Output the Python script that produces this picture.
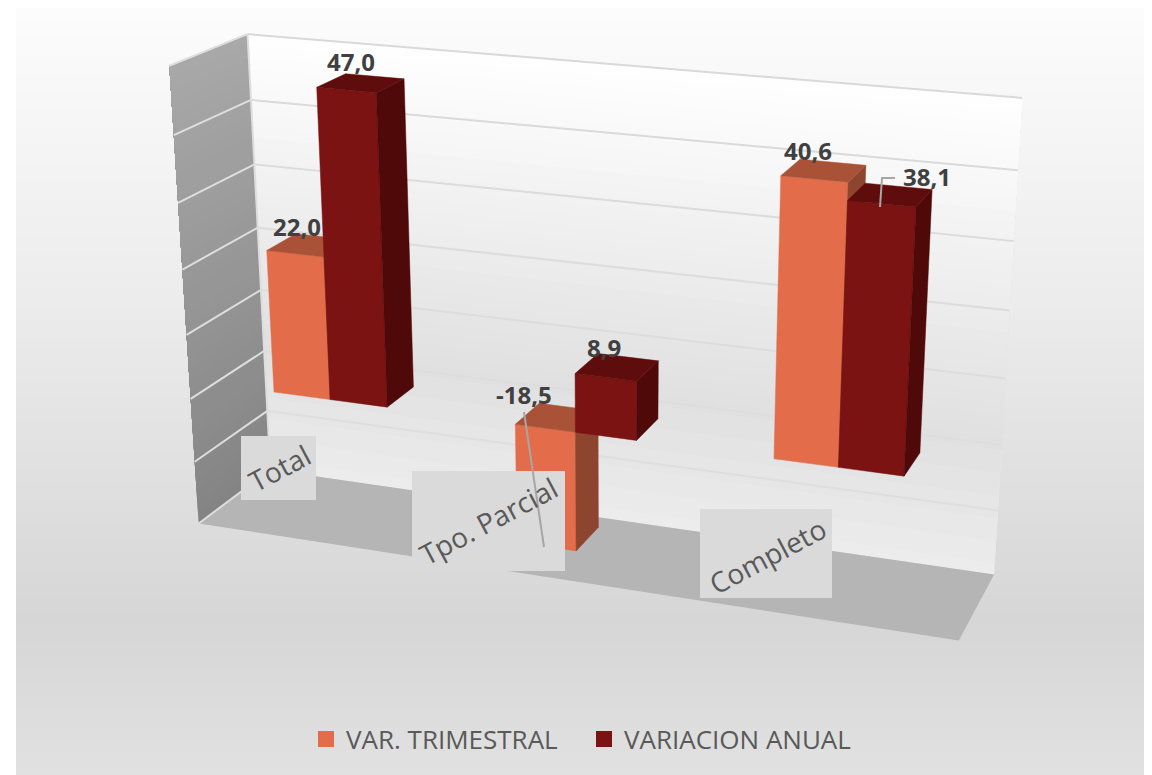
import numpy as np, plotly.graph_objects as go

# ---------- data ----------
categories = ["Total", "Tpo. Parcial", "Completo"]
var_trimestral = [22.0, -18.5, 40.6]
variacion_anual = [47.0, 8.9, 38.1]
series_names = ["VAR. TRIMESTRAL", "VARIACION ANUAL"]
z_ticks = [-20, -10, 0, 10, 20, 30, 40, 50]

# ---------- chart geometry: wall corners on the page fix the 3-D view ----------
GAP_WIDTH, GAP_DEPTH = 2.19, 1.5
Z_MIN, Z_MAX = z_ticks[0], z_ticks[-1]
view_points = {(0,1,1):(247,32),(1,1,1):(1022,98),(1,1,0):(993,573),(0,1,0):(272,473),
               (0,0,1):(170,68),(0,0,0):(197,520),(1,0,0):(960,642)}
rows = []
for (a,b,c),(px,py) in view_points.items():
    X=[a,b,c,1]
    rows.append(X+[0,0,0,0]+[-px*t for t in X])
    rows.append([0,0,0,0]+X+[-py*t for t in X])
M = np.linalg.svd(np.array(rows,float))[2][-1].reshape(3,4)

def pr(x, d, z):
    """x in category units (0..3), d depth 0 front..1 back, z value."""
    h = M @ np.array([x/len(categories), d, (z-Z_MIN)/(Z_MAX-Z_MIN), 1.0])
    return float(h[0]/h[2]), float(h[1]/h[2])

def poly(pts):
    return [pr(*p) for p in pts]

def path(xy):
    return "M" + "L".join(f"{a:.2f},{b:.2f}" for a,b in xy) + "Z"

def grey(v):
    v=int(round(v)); return f"rgb({v},{v},{v})"

shapes = []
# page gradient: each band painted from its top to the page foot, so no seams
bg_y = [8, 300, 620, 775]
bg_v = [252, 236, 214, 225]
band = np.linspace(8, 775, 129)
for a, b in zip(band[:-1], band[1:]):
    shapes.append(dict(type="rect", xref="x", yref="y", x0=16, x1=1144, y0=a, y1=775, layer="below",
                       fillcolor=grey(np.interp((a+b)/2, bg_y, bg_v)), line_width=0))
# walls: same idea, painted from each level up to the top
nb = 40
zs = np.linspace(Z_MIN, Z_MAX, nb+1)
for a, b in zip(zs[:-1], zs[1:]):
    f = ((a+b)/2-Z_MIN)/(Z_MAX-Z_MIN)
    shapes.append(dict(type="path", path=path(poly([(0,1,a),(3,1,a),(3,1,Z_MAX),(0,1,Z_MAX)])), layer="below",
                       fillcolor=grey(np.interp(f, [0, 0.3, 1], [236, 224, 255])), line_width=0))
    shapes.append(dict(type="path", path=path(poly([(0,0,a),(0,1,a),(0,1,Z_MAX),(0,0,Z_MAX)])), layer="below",
                       fillcolor=grey(132+36*f), line_width=0))
shapes.append(dict(type="path", path=path(poly([(0,0,Z_MIN),(3,0,Z_MIN),(3,1,Z_MIN),(0,1,Z_MIN)])), layer="below",
                   fillcolor="#b5b5b5", line_width=0))

fig = go.Figure()
# grid lines
for z in z_ticks[1:]:
    p, q = pr(0,1,z), pr(3,1,z)
    fig.add_trace(go.Scatter(x=[p[0],q[0]], y=[p[1],q[1]], mode="lines", showlegend=False, hoverinfo="skip",
                             line=dict(color=grey(np.interp(z,[-10,50],[222,217])), width=2)))
lx, ly = [], []
for z in z_ticks:
    for p in (pr(0,0,z), pr(0,1,z)):
        lx.append(p[0]); ly.append(p[1])
    lx.append(None); ly.append(None)
for p in (pr(0,1,Z_MIN), pr(0,1,Z_MAX)):
    lx.append(p[0]); ly.append(p[1])
fig.add_trace(go.Scatter(x=lx, y=ly, mode="lines", line=dict(color="#dedede", width=2), showlegend=False, hoverinfo="skip"))

# bars
bar_w = 1/(2+GAP_WIDTH)
d0 = GAP_DEPTH/(1+GAP_DEPTH)/2
d1 = 1-d0
colors = [dict(front="#e36d4a", top="#aa5238", side="#8e4530"),
          dict(front="#7b1312", top="#5f0d0c", side="#4f0908")]
series = [var_trimestral, variacion_anual]
def face(pts, color, name):
    xy = poly(pts)
    xy.append(xy[0])
    fig.add_trace(go.Scatter(x=[a for a,_ in xy], y=[b for _,b in xy], mode="lines", fill="toself",
                             fillcolor=color, line=dict(color=color, width=0.5), showlegend=False,
                             name=name, hoverinfo="name"))
for i in range(len(categories)):
    for s, vals in enumerate(series):
        v = vals[i]
        x0 = i + 0.5 - bar_w + s*bar_w
        x1 = x0 + bar_w
        lo, hi = min(v,0), max(v,0)
        c = colors[s]
        face([(x0,d0,lo),(x1,d0,lo),(x1,d0,hi),(x0,d0,hi)], c["front"], series_names[s])
        face([(x1,d0,lo),(x1,d1,lo),(x1,d1,hi),(x1,d0,hi)], c["side"], series_names[s])
        face([(x0,d0,hi),(x1,d0,hi),(x1,d1,hi),(x0,d1,hi)], c["top"], series_names[s])

# legend entries
for s in range(2):
    fig.add_trace(go.Scatter(x=[None], y=[None], mode="markers", name=series_names[s],
                             marker=dict(symbol="square", size=16, color=colors[s]["front"])))

# category label boxes (page furniture)
label_boxes = [(241,436,316,500),(412,471,565,571),(700,509,832,598)]
for x0,y0,x1,y1 in label_boxes:
    shapes.append(dict(type="rect", x0=x0, x1=x1, y0=y0, y1=y1, layer="above", fillcolor="#dadada", line_width=0))
# leader lines
for seg in ["M524,412L544,547", "M880,207L882,178L895,178"]:
    shapes.append(dict(type="path", path=seg, layer="above", line=dict(color="#a6a6a6", width=2)))

ann = []
label_centers = [(279,468),(488,521),(767,556)]
for t,(x,y) in zip(categories, label_centers):
    ann.append(dict(x=x, y=y, text=t, showarrow=False, textangle=-28,
                    font=dict(family="Open Sans", size=28, color="#595959")))
offsets = [[(-13,-19),(-10,-22)],[(-33,-23),(-13,-20)],[(-16,-20),(37,-18)]]
for s, vals in enumerate(series):
    for i, v in enumerate(vals):
        cx = i + 0.5 - bar_w + s*bar_w + bar_w/2
        px, py = pr(cx, 0.5, max(v,0))
        dx, dy = offsets[i][s]
        ann.append(dict(x=px+dx, y=py+dy, text=f"{v:.1f}".replace(".",","), showarrow=False,
                        font=dict(family="Open Sans", size=24, color="#404040", weight="bold")))

fig.update_layout(width=1152, height=775, margin=dict(l=0,r=0,t=0,b=0), paper_bgcolor="white", plot_bgcolor="white",
    xaxis=dict(range=[0,1152], visible=False, domain=[0,1], fixedrange=True),
    yaxis=dict(range=[775,0], visible=False, domain=[0,1], fixedrange=True),
    shapes=shapes, annotations=ann, showlegend=True,
    legend=dict(orientation="h", x=306/1152, xanchor="left", y=1-739/775, yanchor="middle", entrywidth=233, entrywidthmode="pixels",
                font=dict(family="Open Sans", size=26, color="#595959"), bgcolor="rgba(0,0,0,0)"))
fig.write_html("out.html", config=dict(displayModeBar=False),
               post_script="document.body.style.margin='0';document.body.style.overflow='hidden';")
